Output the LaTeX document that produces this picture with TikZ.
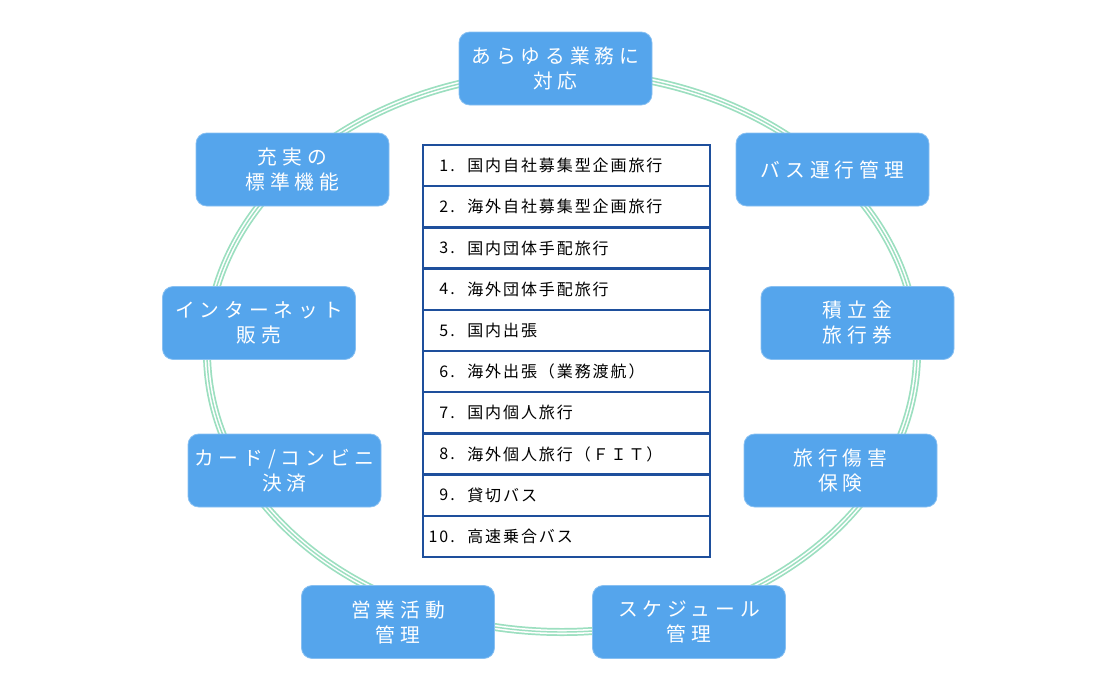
\documentclass[tikz,border=0pt]{standalone}
\usepackage{fontspec}
\newfontfamily\jpbox[LetterSpace=25]{Noto Sans CJK JP}
\newfontfamily\jplist[LetterSpace=12]{Noto Sans CJK JP}
\definecolor{boxblue}{HTML}{55A5EC}
\definecolor{ringgreen}{HTML}{9CDFC0}
\definecolor{listblue}{HTML}{1E4F9C}
\tikzset{
  feat/.style={fill=boxblue, draw=boxblue!70!white, line width=0.6pt, rounded corners=8pt,
    minimum width=144.75pt, minimum height=54.75pt, inner sep=0pt,
    text=white, align=center, font=\jpbox\fontsize{14.8pt}{18.75pt}\selectfont},
  row/.style={draw=listblue, line width=1.8pt, minimum width=215.25pt, minimum height=30.9pt, inner sep=0pt},
  num/.style={anchor=east, inner sep=0pt, font=\jplist\fontsize{12pt}{13pt}\selectfont},
  itm/.style={anchor=west, inner sep=0pt, font=\jplist\fontsize{12pt}{13pt}\selectfont}
}
\begin{document}
\begin{tikzpicture}[x=0.75pt, y=-0.75pt]
\useasboundingbox (0,0) rectangle (1116,689);
% ring
\draw[ringgreen, line width=6pt] (562,352) ellipse [x radius=355, y radius=280];
\draw[white, line width=3.4pt] (562,352) ellipse [x radius=355, y radius=280];
\draw[ringgreen, line width=1.1pt] (562,352) ellipse [x radius=355, y radius=280];
% feature boxes
\node[feat] (b1) at (555.5,68.5) {あらゆる業務に\\対応};
\node[feat] (b2) at (832.5,169.5) {バス運行管理};
\node[feat] (b3) at (292.5,169.5) {充実の\\標準機能};
\node[feat] (b4) at (259,323) {インターネット\\販売};
\node[feat] (b5) at (857.5,323) {積立金\\旅行券};
\node[feat] (b6) at (284.5,470.5) {カード/コンビニ\\決済};
\node[feat] (b7) at (840.5,470.5) {旅行傷害\\保険};
\node[feat] (b8) at (398,622) {営業活動\\管理};
\node[feat] (b9) at (689,622) {スケジュール\\管理};
% list
\foreach \i/\n/\t in {1/1./国内自社募集型企画旅行, 2/2./海外自社募集型企画旅行, 3/3./国内団体手配旅行, 4/4./海外団体手配旅行, 5/5./国内出張, 6/6./海外出張（業務渡航）, 7/7./国内個人旅行, 8/8./海外個人旅行（ＦＩＴ）, 9/9./貸切バス, 10/10./高速乗合バス}{
  \node[row] (r\i) at (566.5,{145+41.2*(\i-0.5)}) {};
  \node[num] (n\i) at (455,{145+41.2*(\i-0.5)}) {\n};
  \node[itm] (t\i) at (467,{145+41.2*(\i-0.5)}) {\t};
}
\end{tikzpicture}
\end{document}
